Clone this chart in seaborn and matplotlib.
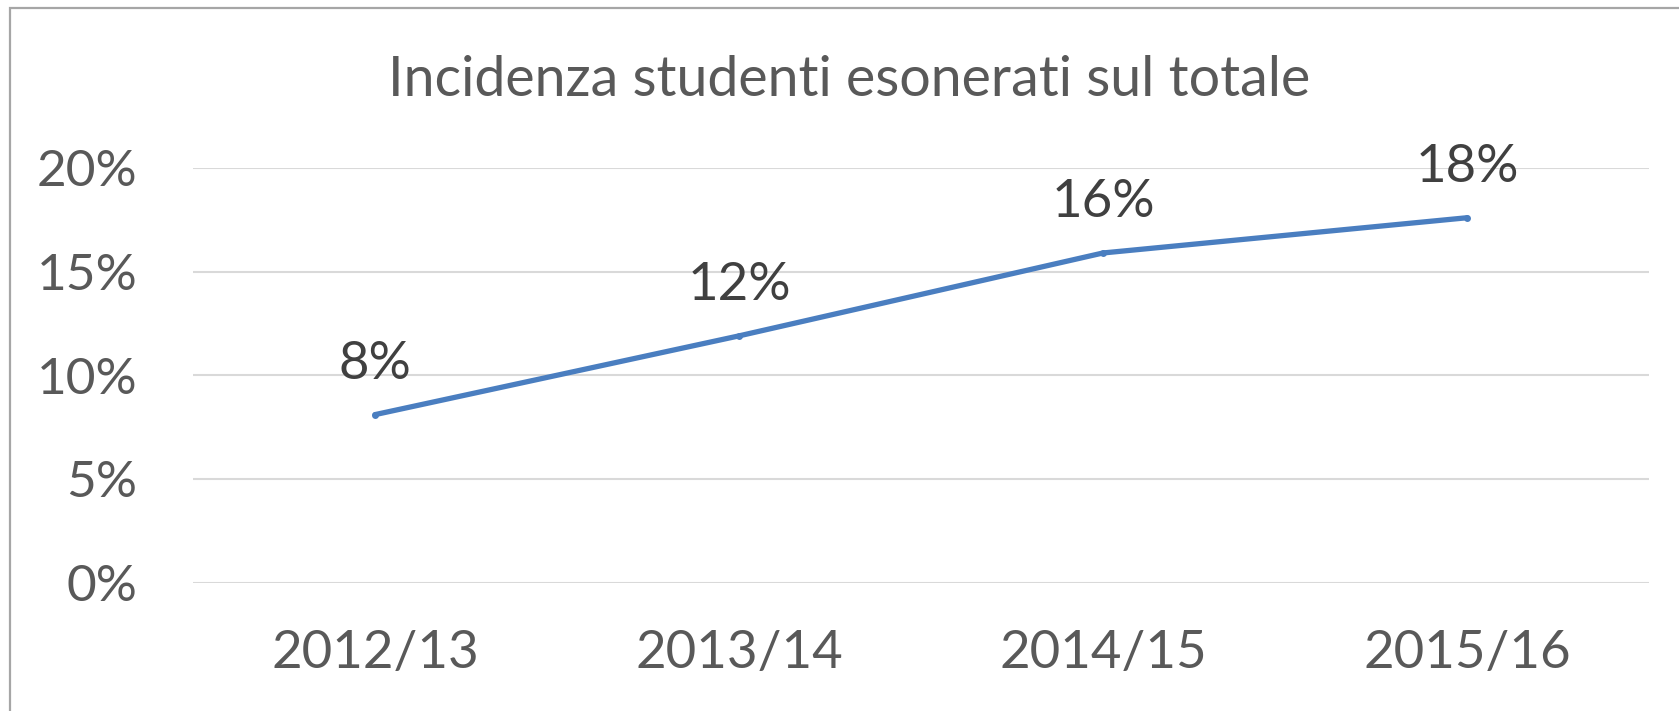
import matplotlib
matplotlib.use('Agg')
import matplotlib.pyplot as plt
import seaborn as sns
import pandas as pd
from matplotlib.patches import Rectangle
from matplotlib.ticker import PercentFormatter

anni = ['2012/13', '2013/14', '2014/15', '2015/16']
incidenza = [0.081, 0.119, 0.159, 0.176]
etichette = ['8%', '12%', '16%', '18%']

sns.set_style('white')
plt.rcParams['font.family'] = ['Lato', 'DejaVu Sans']

grigio = '#595959'

df = pd.DataFrame({'anno': anni, 'incidenza': incidenza})

fig = plt.figure(figsize=(16.79, 7.11), dpi=100)
ax = fig.add_axes([193 / 1679, 1 - 582.5 / 711, 1456 / 1679, 414.5 / 711])

sns.lineplot(data=df, x='anno', y='incidenza', ax=ax, color='#4a7ec0',
             linewidth=3.8, marker='o', markersize=5, markeredgewidth=0, sort=False)

for i, (v, t) in enumerate(zip(incidenza, etichette)):
    ax.annotate(t, (i, v), xytext=(0, 36), textcoords='offset points',
                ha='center', va='center', fontsize=38, color='#404040')

ax.set_xlim(-0.5, 3.5)
ax.set_ylim(0, 0.2)
ax.set_yticks([0, 0.05, 0.10, 0.15, 0.20])
ax.yaxis.set_major_formatter(PercentFormatter(1.0, decimals=0))
ax.grid(axis='y', color='#d9d9d9', linewidth=1.5)
ax.grid(axis='x', visible=False)
ax.set_axisbelow(True)
for s in ax.spines.values():
    s.set_visible(False)
ax.set_xlabel('')
ax.set_ylabel('')
ax.tick_params(axis='y', length=0, pad=40, labelsize=37, labelcolor=grigio)
ax.tick_params(axis='x', length=0, pad=34, labelsize=38, labelcolor=grigio)

fig.text(849 / 1679, 1 - 80 / 711, 'Incidenza studenti esonerati sul totale',
         ha='center', va='center', fontsize=40, color=grigio)

# cornice del grafico (tagliata a destra e in basso)
fig.patches.append(Rectangle((10 / 1679, -0.1), 1.2, 1.1 - 8 / 711,
                             transform=fig.transFigure, fill=False,
                             edgecolor='#a6a6a6', linewidth=1.6))

fig.savefig('out.png', dpi=100)
